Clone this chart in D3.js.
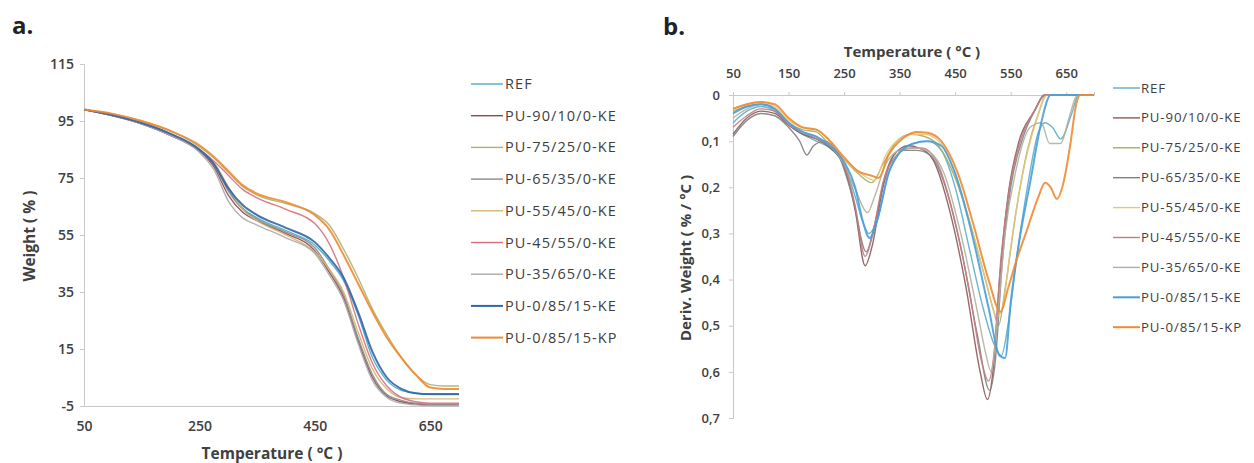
<!DOCTYPE html>
<html><head><meta charset="utf-8">
<script src="https://cdn.jsdelivr.net/npm/d3@7"></script>
<style>
body{margin:0;background:#fff;}
svg{display:block;}
text{font-family:"Open Sans",sans-serif;fill:#404040;}
</style></head><body>
<svg id="c" width="1254" height="463"></svg>
<script>
// ---------- DATA ----------
const seriesNames = ["REF","PU-90/10/0-KE","PU-75/25/0-KE","PU-65/35/0-KE","PU-55/45/0-KE","PU-45/55/0-KE","PU-35/65/0-KE","PU-0/85/15-KE","PU-0/85/15-KP"];
const colorsA = ["#4bacc6","#8e4b4b","#a8b46a","#8a8a8a","#d9b36b","#d46f7c","#a9a9a9","#2f66a8","#f08a32"];
const colorsB = ["#5aaec9","#8a5a5a","#a3ad6a","#808080","#e3c878","#c47a82","#b0b0a0","#4a9fd8","#f08a32"];
const widths = [1.4,1.4,1.4,1.4,1.4,1.4,1.4,2,2];

// Panel a: TGA weight (%) vs temperature
const tempsA = [50,100,150,200,250,275,300,325,350,400,450,475,500,525,550,575,600,625,650,675,700];
const wREF  = [99,97,94.5,90.5,85,80,71,64.5,61,56.5,51.5,46,39,27,12,4,0.5,-0.5,-1,-1,-1];
const w90   = [99,96.8,94,90,84.5,79,69,63,60,55.5,49.5,42,33,18,5,-1.5,-3.5,-4.3,-4.6,-4.6,-4.6];
const w75   = [99,97.5,95,91.5,86,82,77,72,69,66,62.5,58.5,50,40,29,20,12,6,2.5,2,2];
const w65   = [99,97,94,90,84.5,80,70.5,64,60.5,56,50.5,43,34,19,6,-1,-3,-4,-4.3,-4.3,-4.3];
const w55   = [99,97,94.5,90.5,85,80.5,72,64,60,55,49,43,35,21,8,1,-2,-2.5,-2.5,-2.5,-2.5];
const w45   = [99,97,94,90,85,81,76,71,68,64,59,52,40,24,10,2,-2,-3.5,-4,-4,-4];
const w35   = [99,96.8,94,90,84,78,67,61,58.5,54,48.5,41,32,17,4,-2,-4,-4.6,-4.8,-4.8,-4.8];
const wKE   = [99,97,94.3,90.5,85,80,71.5,65.5,62,57.5,52.5,47,40,28,14,5,1,-0.5,-0.8,-0.8,-0.8];
const wKP   = [99,97.5,95,91.5,86.5,82.5,77.5,72.5,69.5,66.5,62,57,48,38,28,19,12,6,1.5,1,1];
const weightSeries = [wREF,w90,w75,w65,w55,w45,w35,wKE,wKP];
const ticksA_x = [50,250,450,650];
const ticksA_y = [-5,15,35,55,75,95,115];

// Panel b: DTG derivative weight (%/°C) vs temperature, [T, value]
const dREF = [[50,.06],[75,.035],[100,.025],[125,.035],[150,.065],[175,.085],[200,.10],[225,.115],[250,.15],[270,.22],[285,.28],[295,.30],[310,.27],[330,.17],[350,.125],[375,.105],[400,.10],[425,.12],[450,.20],[475,.33],[500,.46],[520,.54],[533,.565],[545,.50],[560,.36],[580,.20],[600,.08],[612,.06],[625,.07],[640,.095],[660,.04],[672,0],[700,0]];
const d90 = [[50,.085],[75,.05],[100,.035],[125,.04],[150,.065],[175,.085],[200,.095],[225,.115],[250,.155],[270,.25],[288,.37],[300,.33],[320,.2],[340,.13],[365,.11],[385,.115],[410,.14],[440,.25],[470,.42],[495,.60],[508,.66],[518,.6],[530,.4],[545,.22],[565,.1],[590,.04],[612,0],[700,0]];
const d75 = [[50,.035],[75,.025],[100,.02],[125,.03],[150,.06],[175,.075],[200,.08],[225,.11],[250,.14],[275,.17],[300,.19],[320,.15],[345,.1],[370,.085],[395,.09],[420,.11],[450,.18],[475,.27],[500,.38],[520,.47],[528,.5],[540,.42],[560,.25],[580,.12],[600,.04],[615,0],[700,0]];
const d65 = [[50,.09],[75,.055],[100,.04],[125,.045],[150,.07],[170,.1],[183,.13],[195,.11],[215,.1],[240,.13],[265,.22],[290,.34],[305,.28],[325,.17],[350,.12],[380,.12],[405,.13],[430,.19],[460,.33],[490,.52],[512,.64],[522,.58],[535,.36],[550,.2],[570,.1],[595,.03],[610,0],[700,0]];
const d55 = [[50,.03],[75,.02],[100,.015],[125,.025],[150,.055],[175,.07],[200,.075],[225,.1],[250,.14],[280,.17],[305,.185],[325,.13],[350,.095],[375,.085],[395,.085],[420,.1],[450,.17],[480,.29],[505,.40],[525,.48],[535,.46],[550,.33],[570,.18],[595,.06],[615,0],[700,0]];
const d45 = [[50,.07],[75,.045],[100,.03],[125,.035],[150,.065],[175,.08],[200,.095],[225,.11],[250,.15],[270,.24],[288,.35],[300,.31],[320,.19],[345,.13],[370,.115],[390,.115],[415,.14],[445,.25],[475,.42],[498,.58],[510,.62],[520,.56],[532,.36],[548,.2],[570,.09],[595,.03],[612,0],[700,0]];
const d35 = [[50,.05],[75,.03],[100,.02],[125,.03],[150,.06],[175,.08],[200,.09],[225,.11],[250,.15],[272,.21],[292,.255],[305,.22],[325,.15],[350,.12],[380,.115],[405,.125],[430,.17],[460,.3],[490,.47],[505,.56],[515,.60],[525,.5],[540,.3],[560,.16],[585,.07],[605,.06],[620,.105],[640,.105],[655,.05],[670,0],[700,0]];
const dKE = [[50,.04],[75,.025],[100,.02],[125,.03],[150,.06],[175,.08],[200,.09],[225,.11],[250,.145],[270,.2],[283,.27],[296,.31],[310,.27],[330,.17],[350,.125],[375,.105],[400,.1],[425,.11],[450,.17],[480,.3],[510,.46],[530,.565],[540,.57],[550,.45],[565,.32],[585,.19],[605,.06],[622,0],[700,0]];
const dKP = [[50,.03],[75,.02],[100,.015],[125,.02],[150,.05],[175,.07],[200,.075],[225,.1],[250,.135],[275,.165],[300,.175],[312,.18],[330,.13],[355,.095],[380,.08],[400,.082],[425,.1],[455,.17],[485,.29],[510,.4],[532,.47],[545,.42],[560,.36],[580,.29],[600,.22],[612,.19],[622,.2],[633,.225],[645,.19],[657,.11],[668,.02],[675,0],[700,0]];
const derivSeries = [dREF,d90,d75,d65,d55,d45,d35,dKE,dKP];
const ticksB_x = [50,150,250,350,450,550,650];
const ticksB_y = [0,0.1,0.2,0.3,0.4,0.5,0.6,0.7];

// ---------- DRAW ----------
const svg = d3.select("#c");
const axisColor = "#c8c8c8";
const tickFont = 14;

// Panel a
const xA = d3.scaleLinear().domain([50,700]).range([84,459]);
const yA = d3.scaleLinear().domain([-5,115]).range([406,64]);
const gA = svg.append("g");
gA.append("text").attr("x",12).attr("y",34).attr("font-size",24).attr("font-weight",700).style("fill","#222").text("a.");
const axAy = gA.append("g").attr("transform","translate(84,0)")
  .call(d3.axisLeft(yA).tickValues(ticksA_y).tickSize(4).tickPadding(6).tickFormat(d=>String(d)));
const axAx = gA.append("g").attr("transform","translate(0,406)")
  .call(d3.axisBottom(xA).tickValues(ticksA_x).tickSize(0).tickPadding(15).tickFormat(d=>String(d)));
[axAy,axAx].forEach(a=>{a.selectAll("path,line").attr("stroke",axisColor);
  a.selectAll("text").attr("font-size",tickFont).attr("font-weight",600).style("fill","#404040").attr("font-family","Open Sans");});
const lineA = d3.line().x((d,i)=>xA(tempsA[i])).y(d=>yA(d)).curve(d3.curveMonotoneX);
weightSeries.forEach((s,i)=>{
  gA.append("path").datum(s).attr("d",lineA).attr("fill","none")
    .attr("stroke",colorsA[i]).attr("stroke-width",widths[i]).attr("stroke-opacity",0.9);
});
gA.append("text").attr("x",272).attr("y",459).attr("text-anchor","middle").attr("font-size",15.5).attr("font-weight",700).text("Temperature ( °C )");
gA.append("text").attr("transform","translate(35,236) rotate(-90)").attr("text-anchor","middle").attr("font-size",15.5).attr("font-weight",700).text("Weight ( % )");
// legend a
const legA = gA.append("g");
seriesNames.forEach((n,i)=>{
  const y = 84 + i*31.7;
  legA.append("line").attr("x1",471).attr("x2",503).attr("y1",y).attr("y2",y).attr("stroke",colorsA[i]).attr("stroke-width",widths[i]);
  legA.append("text").attr("x",505).attr("y",y+5).attr("font-family","DejaVu Sans").attr("font-size",14.5).attr("letter-spacing",1.1).text(n);
});

// Panel b
const xB = d3.scaleLinear().domain([50,700]).range([733,1094]);
const yB = d3.scaleLinear().domain([0,0.7]).range([95,418]);
const gB = svg.append("g");
gB.append("text").attr("x",663).attr("y",35).attr("font-size",24).attr("font-weight",700).style("fill","#222").text("b.");
const commaFmt = d => d===0 ? "0" : d3.format(".1f")(d).replace(".",",");
const axBy = gB.append("g").attr("transform","translate(733,0)")
  .call(d3.axisLeft(yB).tickValues(ticksB_y).tickSize(4).tickPadding(9).tickFormat(commaFmt));
const axBx = gB.append("g").attr("transform","translate(0,95)")
  .call(d3.axisTop(xB).tickValues(ticksB_x).tickSize(3).tickPadding(14).tickFormat(d=>String(d)));
[axBy,axBx].forEach(a=>{a.selectAll("path,line").attr("stroke",axisColor);
  a.selectAll("text").attr("font-size",13).attr("font-weight",600).style("fill","#404040").attr("font-family","Open Sans");});
const lineB = d3.line().x(d=>xB(d[0])).y(d=>yB(d[1])).curve(d3.curveMonotoneX);
derivSeries.forEach((s,i)=>{
  gB.append("path").datum(s).attr("d",lineB).attr("fill","none")
    .attr("stroke",colorsB[i]).attr("stroke-width",widths[i]).attr("stroke-opacity",0.9);
});
gB.append("text").attr("x",912).attr("y",57).attr("text-anchor","middle").attr("font-size",15).attr("font-weight",700).text("Temperature ( °C )");
gB.append("text").attr("transform","translate(691,258) rotate(-90)").attr("text-anchor","middle").attr("font-size",15).attr("font-weight",700).text("Deriv. Weight ( % / °C )");
const legB = gB.append("g");
seriesNames.forEach((n,i)=>{
  const y = 88 + i*29.9;
  legB.append("line").attr("x1",1113).attr("x2",1140).attr("y1",y).attr("y2",y).attr("stroke",colorsB[i]).attr("stroke-width",widths[i]);
  legB.append("text").attr("x",1141).attr("y",y+4.5).attr("font-family","DejaVu Sans").attr("font-size",13.2).attr("letter-spacing",0.9).text(n);
});
</script>
</body></html>
